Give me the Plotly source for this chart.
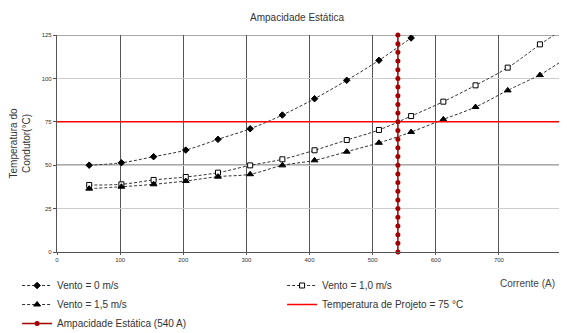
import plotly.graph_objects as go

# ---- data ----
corrente = [51, 102, 153, 204, 255, 306, 357, 408, 459, 510, 561, 612, 663, 714, 765]
vento_0 = [50.0, 51.4, 54.9, 58.7, 64.9, 71.0, 78.9, 88.3, 98.9, 110.4, 123.3]
vento_10 = [38.6, 39.0, 41.5, 43.2, 45.7, 49.9, 53.4, 58.6, 64.5, 70.3, 78.3, 86.6, 96.0, 106.2, 119.6]
vento_15 = [36.5, 37.6, 39.0, 40.9, 43.4, 44.8, 49.9, 52.8, 57.8, 62.9, 69.1, 76.4, 83.5, 93.1, 101.9]
# trendline continuation beyond the last point (x, y)
ext_0 = ([561, 612], [123.3, 137.0])
ext_10 = ([765, 800], [119.6, 128.0])
ext_15 = ([765, 800], [101.9, 110.0])
temp_projeto = 75
temp_x = [0, 800]
ampacidade = 540
amp_y = [0, 5, 10, 15, 20, 25, 30, 35, 40, 45, 50, 55, 60, 65, 70, 75, 80, 85, 90, 95,
         100, 105, 110, 115, 120, 125]
x_ticks = [0, 100, 200, 300, 400, 500, 600, 700, 800]
y_ticks = [0, 25, 50, 75, 100, 125]

FONT = "Liberation Sans, Arial, sans-serif"
line_style = dict(color="#333333", width=1, dash="3px,2px", shape="spline")

fig = go.Figure()

def series(name, y, symbol, size, fill, ext):
    n = len(y)
    fig.add_trace(go.Scatter(
        x=ext[0], y=ext[1], mode="lines", line=line_style,
        showlegend=False, hoverinfo="skip"))
    fig.add_trace(go.Scatter(
        x=corrente[:n], y=y, name=name, mode="lines+markers",
        line=line_style,
        marker=dict(symbol=symbol, size=size, color=fill,
                    line=dict(color="black", width=1))))

series("Vento = 0 m/s", vento_0, "diamond", 5, "black", ext_0)
series("Vento = 1,0 m/s", vento_10, "square", 5, "white", ext_10)
series("Vento = 1,5 m/s", vento_15, "triangle-up", 6, "black", ext_15)

fig.add_trace(go.Scatter(
    x=temp_x, y=[temp_projeto] * len(temp_x), mode="lines",
    name="Temperatura de Projeto = 75 °C",
    line=dict(color="#ff0000", width=1.5)))

fig.add_trace(go.Scatter(
    x=[ampacidade] * len(amp_y), y=amp_y, mode="lines+markers",
    name="Ampacidade Estática (540 A)",
    line=dict(color="#a00000", width=1.5),
    marker=dict(symbol="circle", size=5, color="#a00000"),
    cliponaxis=False))

# dark horizontal lines at 50 and at the top
for yv in (50, 125):
    fig.add_shape(type="line", xref="paper", x0=0, x1=1, yref="y", y0=yv, y1=yv,
                  line=dict(color="#555555", width=1.2), layer="below")

# page body has an 8px margin, so the figure is 8px smaller than the window
fig.update_layout(
    width=559, height=325,
    margin=dict(l=49, r=5, t=27, b=81, autoexpand=False),
    paper_bgcolor="white", plot_bgcolor="white",
    font=dict(family=FONT, color="#333333", size=10),
    title=dict(text="Ampacidade Estática", x=0.517, xanchor="center",
               y=0.972, yanchor="middle", font=dict(size=10, color="#333333")),
    xaxis=dict(range=[0, 800], tickvals=x_ticks, ticks="outside", ticklen=2,
               tickcolor="#555555", showgrid=True, gridcolor="#555555", gridwidth=1.2,
               showline=True, linecolor="#555555", linewidth=1.2, zeroline=False,
               tickfont=dict(size=6, color="#333333"), automargin=False,
               title=dict(text="")),
    yaxis=dict(range=[0, 125], tickvals=y_ticks, ticks="outside", ticklen=3,
               tickcolor="#555555", showgrid=True, gridcolor="#cccccc", gridwidth=1,
               showline=True, linecolor="#555555", linewidth=1.2, zeroline=False,
               tickfont=dict(size=6, color="#333333"), automargin=False,
               title=dict(text="Temperatura do<br>Condutor(°C)", standoff=12,
                          font=dict(size=10, color="#333333"))),
    legend=dict(orientation="h", x=-0.079, xanchor="left", y=-0.0876, yanchor="top",
                entrywidth=220, entrywidthmode="pixels",
                font=dict(size=10, color="#333333"), tracegroupgap=0,
                itemwidth=30, bgcolor="rgba(0,0,0,0)"),
    annotations=[dict(text="Corrente (A)", xref="paper", yref="paper",
                      x=0.99, y=-0.143, xanchor="right", yanchor="middle",
                      showarrow=False, font=dict(size=10, color="#444444"))],
    showlegend=True,
)

fig.write_html("out.html")
